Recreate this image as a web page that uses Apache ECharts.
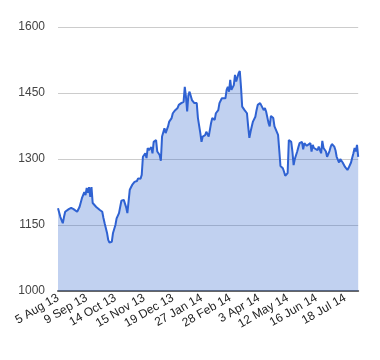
<!DOCTYPE html>
<html>
<head>
<meta charset="utf-8">
<script src="https://cdn.jsdelivr.net/npm/echarts@6/dist/echarts.min.js"></script>
<style>html,body{margin:0;padding:0;background:#fff}#c{width:380px;height:360px}</style>
</head>
<body>
<div id="c"></div>
<script>
// x tick labels every 24 trading days
const tickLabels = ['5 Aug 13','9 Sep 13','14 Oct 13','15 Nov 13','19 Dec 13','27 Jan 14','28 Feb 14','3 Apr 14','12 May 14','16 Jun 14','18 Jul 14'];
const tickStep = 24;
const yTicks = [1000, 1150, 1300, 1450, 1600];
// trading-day index of each sampled point
const days = [0,2,4,5,6,7,9,10,11,13,14,16,17,18,20,21,22,23,24,25,26,27,28,29,30,32,33,35,37,38,39,41,42,43,45,46,48,49,51,52,53,55,56,57,58,60,62,63,64,66,67,69,70,71,73,74,75,76,78,79,80,82,83,85,86,87,89,90,92,93,95,96,98,100,101,103,104,105,106,107,108,109,110,111,112,114,115,116,117,119,120,121,123,124,126,127,128,129,131,132,134,135,137,138,140,141,142,143,144,145,147,148,149,151,152,153,154,156,158,159,160,161,162,163,165,166,167,169,170,172,173,174,176,177,178,180,181,182,184,185,186,188,189,190,192,193,195,196,197,198,200,201,202,204,205,206,208,209,211,212,213,214,215,217,218,220,221,222,224,225,227,228,229,231,232,233,235,236,238,239,240,242,243,245,246,247,248,249,250,251];
const values = [1188,1168,1154,1168,1180,1177,1186,1182,1189,1186,1189,1180,1180,1191,1211,1218,1225,1218,1234,1223,1236,1214,1236,1200,1202,1191,1191,1184,1180,1166,1154,1132,1116,1110,1112,1132,1150,1165,1177,1180,1205,1207,1203,1190,1177,1230,1241,1238,1248,1250,1256,1255,1264,1305,1313,1302,1325,1320,1327,1313,1339,1343,1317,1309,1296,1351,1370,1359,1374,1385,1393,1404,1411,1416,1423,1427,1430,1430,1464,1441,1408,1445,1453,1457,1434,1427,1423,1427,1393,1359,1339,1351,1354,1362,1351,1348,1382,1393,1389,1404,1411,1427,1438,1434,1438,1457,1464,1453,1480,1457,1468,1491,1476,1495,1500,1464,1419,1411,1404,1374,1348,1362,1374,1385,1396,1411,1423,1427,1425,1411,1416,1408,1382,1374,1398,1393,1374,1377,1355,1320,1284,1279,1271,1262,1268,1343,1339,1317,1286,1300,1317,1327,1336,1339,1322,1336,1330,1332,1336,1317,1332,1325,1328,1320,1328,1313,1341,1325,1317,1305,1318,1328,1334,1328,1320,1305,1292,1300,1292,1289,1282,1275,1280,1292,1303,1313,1325,1317,1332,1305];

const chart = echarts.init(document.getElementById('c'), null, {renderer: 'canvas'});
const font = 'Arial, "Liberation Sans", sans-serif';
chart.setOption({
  animation: false,
  backgroundColor: '#fff',
  grid: {left: 58, right: 21.8, top: 27, bottom: 69, containLabel: false},
  xAxis: {
    type: 'value', min: 0, max: days[days.length - 1], interval: tickStep,
    axisLine: {show: true, onZero: false, lineStyle: {color: '#666', width: 2}},
    axisTick: {show: false},
    splitLine: {show: false},
    axisLabel: {
      rotate: 30, color: '#222', fontSize: 12, fontFamily: font, margin: 6,
      showMaxLabel: false,
      formatter: v => (v % tickStep === 0 && tickLabels[v / tickStep]) ? tickLabels[v / tickStep] : ''
    }
  },
  yAxis: {
    type: 'value', min: yTicks[0], max: yTicks[yTicks.length - 1], interval: yTicks[1] - yTicks[0],
    axisLine: {show: false}, axisTick: {show: false},
    splitLine: {lineStyle: {color: '#ccc', width: 1}},
    axisLabel: {color: '#444', fontSize: 12, fontFamily: font, margin: 13, formatter: v => String(v)}
  },
  series: [{
    type: 'line',
    data: days.map((d, i) => [d, values[i]]),
    showSymbol: false,
    lineStyle: {color: '#2f62d2', width: 2},
    itemStyle: {color: '#2f62d2'},
    areaStyle: {color: '#3366cc', opacity: 0.3, origin: 'start'}
  }]
});
</script>
</body>
</html>
